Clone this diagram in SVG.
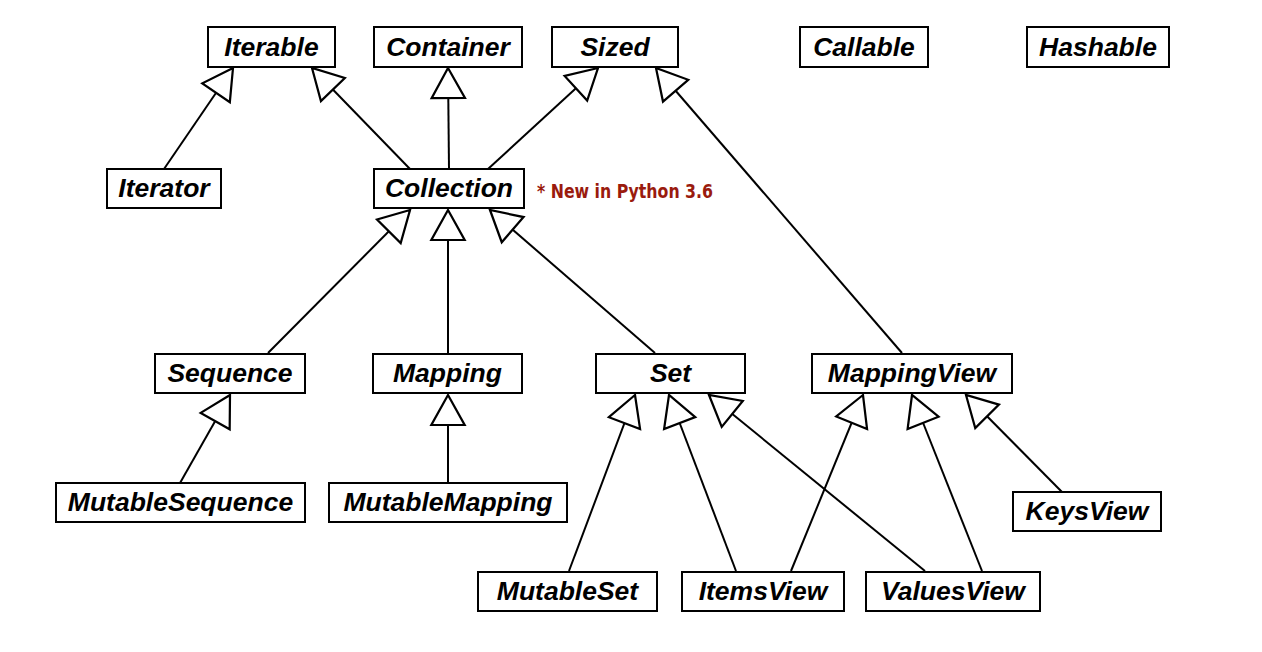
<svg xmlns="http://www.w3.org/2000/svg" width="1262" height="652" viewBox="0 0 1262 652">
<style>
.box{fill:#fff;stroke:#000;stroke-width:2}
.lbl{font-family:"Liberation Sans",Arial,sans-serif;font-weight:bold;font-style:italic;font-size:26.5px;text-anchor:middle;fill:#000}
.edge{stroke:#000;stroke-width:2;fill:none;marker-end:url(#tri)}
.note{font-family:"DejaVu Sans Condensed","DejaVu Sans",sans-serif;font-stretch:condensed;font-weight:bold;font-size:19px;fill:#9a1b0e}
</style>
<defs>
<marker id="tri" markerUnits="userSpaceOnUse" markerWidth="40" markerHeight="40" viewBox="-30 -18 32 36" refX="0" refY="0" orient="auto">
<path d="M0,0 L-27,-15 L-27,15 Z" fill="#fff" stroke="#000" stroke-width="2" stroke-linejoin="miter"/>
</marker>
</defs>
<rect width="1262" height="652" fill="#fff"/>
<g id="connectors">
<line class="edge" x1="164" y1="169" x2="233" y2="68"/>
<line class="edge" x1="410" y1="169" x2="312" y2="68"/>
<line class="edge" x1="449" y1="169" x2="448" y2="68"/>
<line class="edge" x1="488" y1="169" x2="598" y2="68"/>
<line class="edge" x1="902" y1="353" x2="656" y2="68"/>
<line class="edge" x1="268" y1="353" x2="410" y2="210"/>
<line class="edge" x1="448" y1="353" x2="448" y2="210"/>
<line class="edge" x1="655" y1="353" x2="490" y2="210"/>
<line class="edge" x1="180" y1="483" x2="230" y2="395"/>
<line class="edge" x1="448" y1="483" x2="448" y2="395"/>
<line class="edge" x1="569" y1="571" x2="635" y2="395"/>
<line class="edge" x1="736" y1="571" x2="669" y2="395"/>
<line class="edge" x1="925" y1="571" x2="709" y2="395"/>
<line class="edge" x1="791" y1="571" x2="863" y2="395"/>
<line class="edge" x1="982" y1="571" x2="912" y2="395"/>
<line class="edge" x1="1062" y1="492" x2="966" y2="395"/>
</g>
<g id="Iterable"><rect class="box" x="208" y="27" width="127" height="40"/><text class="lbl" x="271.5" y="56">Iterable</text></g>
<g id="Container"><rect class="box" x="374" y="27" width="148" height="40"/><text class="lbl" x="448" y="56">Container</text></g>
<g id="Sized"><rect class="box" x="552" y="27" width="126" height="40"/><text class="lbl" x="615" y="56">Sized</text></g>
<g id="Callable"><rect class="box" x="800" y="27" width="128" height="40"/><text class="lbl" x="864" y="56">Callable</text></g>
<g id="Hashable"><rect class="box" x="1027" y="27" width="142" height="40"/><text class="lbl" x="1098" y="56">Hashable</text></g>
<g id="Iterator"><rect class="box" x="107" y="169" width="114" height="39"/><text class="lbl" x="164" y="197">Iterator</text></g>
<g id="Collection"><rect class="box" x="374" y="169" width="150" height="39"/><text class="lbl" x="449" y="197">Collection</text></g>
<text class="note" x="537" y="198" textLength="176" lengthAdjust="spacingAndGlyphs">* New in Python 3.6</text>
<g id="Sequence"><rect class="box" x="155" y="354" width="150" height="39"/><text class="lbl" x="230" y="382">Sequence</text></g>
<g id="Mapping"><rect class="box" x="373" y="354" width="149" height="39"/><text class="lbl" x="447.5" y="382">Mapping</text></g>
<g id="Set"><rect class="box" x="596" y="354" width="149" height="39"/><text class="lbl" x="670.5" y="382">Set</text></g>
<g id="MappingView"><rect class="box" x="812" y="354" width="200" height="39"/><text class="lbl" x="912" y="382">MappingView</text></g>
<g id="MutableSequence"><rect class="box" x="56" y="483" width="249" height="39"/><text class="lbl" x="180.5" y="511">MutableSequence</text></g>
<g id="MutableMapping"><rect class="box" x="329" y="483" width="238" height="39"/><text class="lbl" x="448" y="511">MutableMapping</text></g>
<g id="KeysView"><rect class="box" x="1013" y="492" width="148" height="39"/><text class="lbl" x="1087" y="520">KeysView</text></g>
<g id="MutableSet"><rect class="box" x="478" y="572" width="179" height="39"/><text class="lbl" x="567.5" y="600">MutableSet</text></g>
<g id="ItemsView"><rect class="box" x="682" y="572" width="162" height="39"/><text class="lbl" x="763" y="600">ItemsView</text></g>
<g id="ValuesView"><rect class="box" x="866" y="572" width="174" height="39"/><text class="lbl" x="953" y="600">ValuesView</text></g>
</svg>
